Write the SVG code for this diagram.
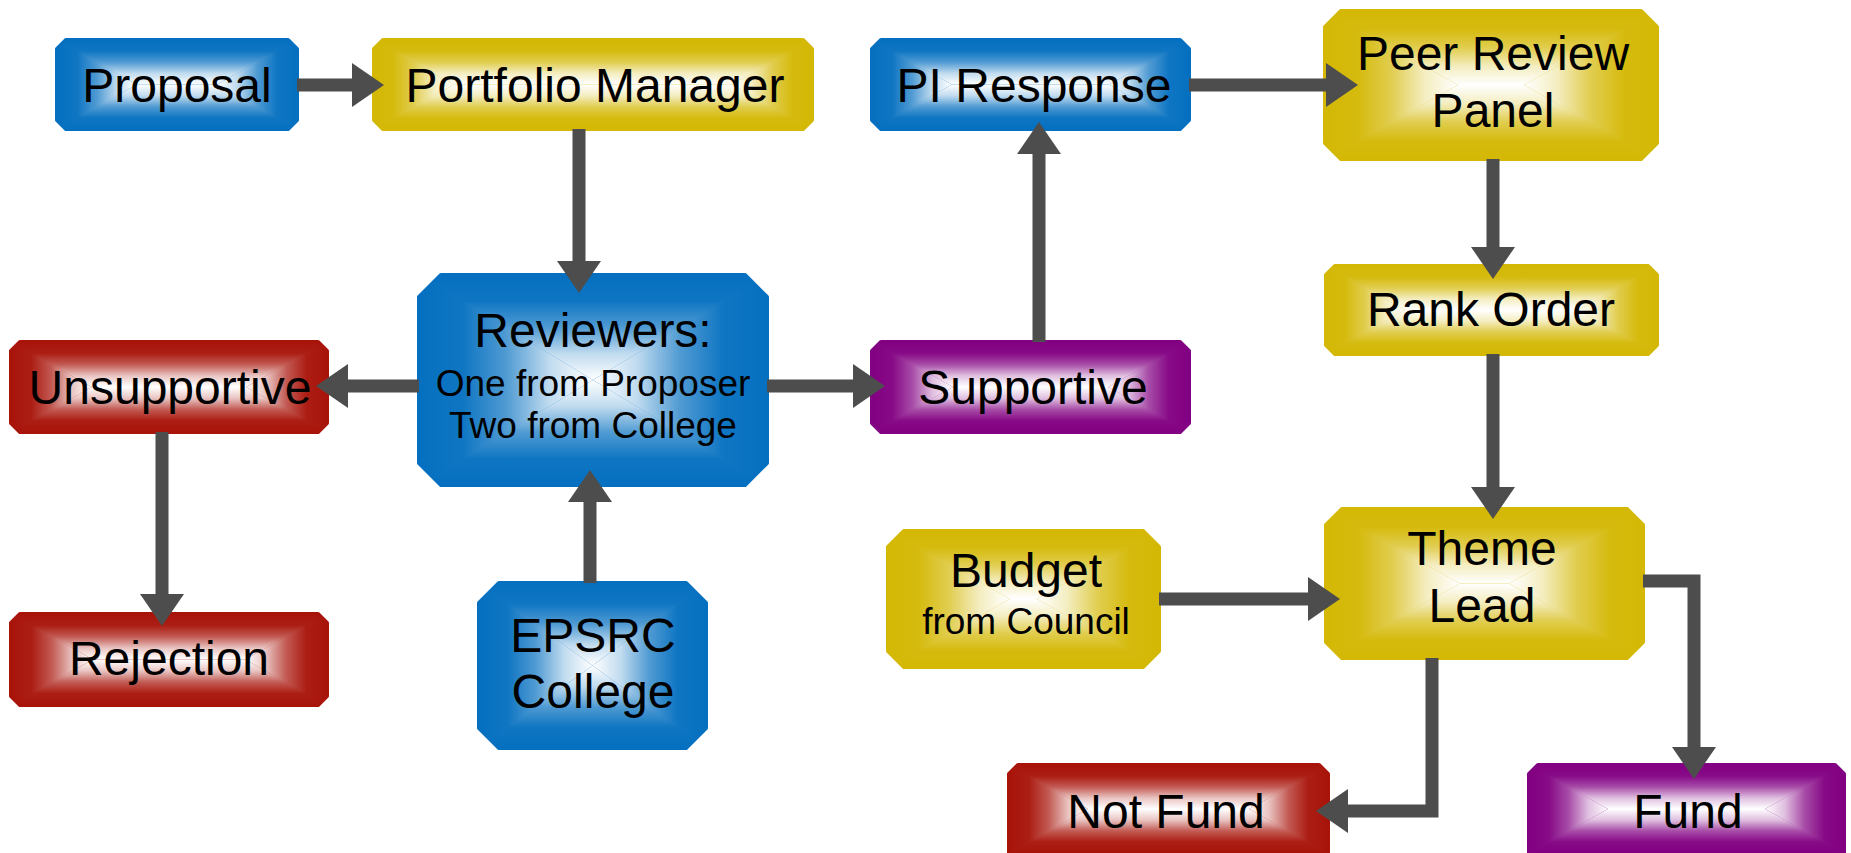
<svg xmlns="http://www.w3.org/2000/svg" xmlns:xlink="http://www.w3.org/1999/xlink" width="1851" height="853" viewBox="0 0 1851 853">
<defs>
<style>
.t{font-family:"Liberation Sans",Arial,sans-serif;font-size:48px;fill:#000;text-anchor:middle}
.s{font-size:37px}
.blue{fill:#0570C0;stroke:#0570C0}
.gold{fill:#D4B805;stroke:#D4B805}
.red{fill:#A8140A;stroke:#A8140A}
.purple{fill:#820082;stroke:#820082}
.box{stroke-width:4;stroke-linejoin:round}
.conn{fill:none;stroke:#4D4D4D;stroke-width:13;stroke-linejoin:miter;marker-end:url(#ah)}
</style>
<linearGradient id="gs">
<stop offset="0" stop-color="#fff" stop-opacity="0"/>
<stop offset="0.25" stop-color="#fff" stop-opacity="0.04"/>
<stop offset="0.5" stop-color="#fff" stop-opacity="0.3"/>
<stop offset="0.75" stop-color="#fff" stop-opacity="0.75"/>
<stop offset="1" stop-color="#fff" stop-opacity="1"/>
</linearGradient>
<linearGradient id="gt" href="#gs" xlink:href="#gs" x1="0" y1="0" x2="0" y2="1"/>
<linearGradient id="gb" href="#gs" xlink:href="#gs" x1="0" y1="1" x2="0" y2="0"/>
<linearGradient id="gl" href="#gs" xlink:href="#gs" x1="0" y1="0" x2="1" y2="0"/>
<linearGradient id="gr" href="#gs" xlink:href="#gs" x1="1" y1="0" x2="0" y2="0"/>
<marker id="ah" markerUnits="userSpaceOnUse" markerWidth="32" markerHeight="44" viewBox="0 0 32 44" refX="1" refY="22" orient="auto"><path d="M0,0 L32,22 L0,44 z" fill="#4D4D4D"/></marker>
</defs>
<rect width="1851" height="853" fill="#fff"/>

<g id="proposal"><path class="box blue" d="M66,40 H288 L297,49 V120 L288,129 H66 L57,120 V49 Z"/>
<polygon fill="url(#gt)" points="57,40 297,40 217,84.5 137,84.5"/><polygon fill="url(#gb)" points="57,129 297,129 217,84.5 137,84.5"/><polygon fill="url(#gl)" points="57,40 137,84.5 57,129"/><polygon fill="url(#gr)" points="297,40 217,84.5 297,129"/>
<text class="t" x="177" y="102">Proposal</text></g>

<g id="portfolio-manager"><path class="box gold" d="M383,40 H803 L812,49 V120 L803,129 H383 L374,120 V49 Z"/>
<polygon fill="url(#gt)" points="374,40 812,40 732,84.5 454,84.5"/><polygon fill="url(#gb)" points="374,129 812,129 732,84.5 454,84.5"/><polygon fill="url(#gl)" points="374,40 454,84.5 374,129"/><polygon fill="url(#gr)" points="812,40 732,84.5 812,129"/>
<text class="t" x="595" y="102">Portfolio Manager</text></g>

<g id="pi-response"><path class="box blue" d="M881,40 H1180 L1189,49 V120 L1180,129 H881 L872,120 V49 Z"/>
<polygon fill="url(#gt)" points="872,40 1189,40 1109,84.5 952,84.5"/><polygon fill="url(#gb)" points="872,129 1189,129 1109,84.5 952,84.5"/><polygon fill="url(#gl)" points="872,40 952,84.5 872,129"/><polygon fill="url(#gr)" points="1189,40 1109,84.5 1189,129"/>
<text class="t" x="1034" y="102">PI Response</text></g>

<g id="peer-review-panel"><path class="box gold" d="M1341,11 H1641 L1657,27 V143 L1641,159 H1341 L1325,143 V27 Z"/>
<polygon fill="url(#gt)" points="1325,11 1657,11 1524,85 1458,85"/><polygon fill="url(#gb)" points="1325,159 1657,159 1524,85 1458,85"/><polygon fill="url(#gl)" points="1325,11 1458,85 1325,159"/><polygon fill="url(#gr)" points="1657,11 1524,85 1657,159"/>
<text class="t" x="1493" y="70">Peer Review</text><text class="t" x="1493" y="127">Panel</text></g>

<g id="reviewers"><path class="box blue" d="M441,275 H745 L767,297 V463 L745,485 H441 L419,463 V297 Z"/>
<polygon fill="url(#gt)" points="419,275 767,275 593,380"/><polygon fill="url(#gb)" points="419,485 767,485 593,380"/><polygon fill="url(#gl)" points="419,275 593,380 419,485"/><polygon fill="url(#gr)" points="767,275 593,380 767,485"/>
<text class="t" x="593" y="347">Reviewers:</text><text class="t s" x="593" y="396">One from Proposer</text><text class="t s" x="593" y="438">Two from College</text></g>

<g id="unsupportive"><path class="box red" d="M20,342 H318 L327,351 V423 L318,432 H20 L11,423 V351 Z"/>
<polygon fill="url(#gt)" points="11,342 327,342 246,387 92,387"/><polygon fill="url(#gb)" points="11,432 327,432 246,387 92,387"/><polygon fill="url(#gl)" points="11,342 92,387 11,432"/><polygon fill="url(#gr)" points="327,342 246,387 327,432"/>
<text class="t" x="170" y="404">Unsupportive</text></g>

<g id="supportive"><path class="box purple" d="M881,342 H1180 L1189,351 V423 L1180,432 H881 L872,423 V351 Z"/>
<polygon fill="url(#gt)" points="872,342 1189,342 1108,387 953,387"/><polygon fill="url(#gb)" points="872,432 1189,432 1108,387 953,387"/><polygon fill="url(#gl)" points="872,342 953,387 872,432"/><polygon fill="url(#gr)" points="1189,342 1108,387 1189,432"/>
<text class="t" x="1033" y="404">Supportive</text></g>

<g id="rank-order"><path class="box gold" d="M1335,266 H1648 L1657,275 V345 L1648,354 H1335 L1326,345 V275 Z"/>
<polygon fill="url(#gt)" points="1326,266 1657,266 1578,310 1405,310"/><polygon fill="url(#gb)" points="1326,354 1657,354 1578,310 1405,310"/><polygon fill="url(#gl)" points="1326,266 1405,310 1326,354"/><polygon fill="url(#gr)" points="1657,266 1578,310 1657,354"/>
<text class="t" x="1491" y="326">Rank Order</text></g>

<g id="theme-lead"><path class="box gold" d="M1342,509 H1627 L1643,525 V642 L1627,658 H1342 L1326,642 V525 Z"/>
<polygon fill="url(#gt)" points="1326,509 1643,509 1509,583.5 1460,583.5"/><polygon fill="url(#gb)" points="1326,658 1643,658 1509,583.5 1460,583.5"/><polygon fill="url(#gl)" points="1326,509 1460,583.5 1326,658"/><polygon fill="url(#gr)" points="1643,509 1509,583.5 1643,658"/>
<text class="t" x="1482" y="565">Theme</text><text class="t" x="1482" y="622">Lead</text></g>

<g id="budget"><path class="box gold" d="M904,531 H1143 L1159,547 V651 L1143,667 H904 L888,651 V547 Z"/>
<polygon fill="url(#gt)" points="888,531 1159,531 1037,599 1010,599"/><polygon fill="url(#gb)" points="888,667 1159,667 1037,599 1010,599"/><polygon fill="url(#gl)" points="888,531 1010,599 888,667"/><polygon fill="url(#gr)" points="1159,531 1037,599 1159,667"/>
<text class="t" x="1026" y="587">Budget</text><text class="t s" x="1026" y="634">from Council</text></g>

<g id="rejection"><path class="box red" d="M20,614 H318 L327,623 V696 L318,705 H20 L11,696 V623 Z"/>
<polygon fill="url(#gt)" points="11,614 327,614 245,659.5 93,659.5"/><polygon fill="url(#gb)" points="11,705 327,705 245,659.5 93,659.5"/><polygon fill="url(#gl)" points="11,614 93,659.5 11,705"/><polygon fill="url(#gr)" points="327,614 245,659.5 327,705"/>
<text class="t" x="169" y="675">Rejection</text></g>

<g id="epsrc-college"><path class="box blue" d="M499,583 H686 L706,603 V728 L686,748 H499 L479,728 V603 Z"/>
<polygon fill="url(#gt)" points="479,583 706,583 592.5,665.5"/><polygon fill="url(#gb)" points="479,748 706,748 592.5,665.5"/><polygon fill="url(#gl)" points="479,583 592.5,665.5 479,748"/><polygon fill="url(#gr)" points="706,583 592.5,665.5 706,748"/>
<text class="t" x="593" y="652">EPSRC</text><text class="t" x="593" y="708">College</text></g>

<g id="not-fund"><path class="box red" d="M1018,765 H1319 L1328,774 V860 H1009 V774 Z"/>
<polygon fill="url(#gt)" points="1009,765 1328,765 1249,809 1088,809"/><polygon fill="url(#gb)" points="1009,853 1328,853 1249,809 1088,809"/><polygon fill="url(#gl)" points="1009,765 1088,809 1009,853"/><polygon fill="url(#gr)" points="1328,765 1249,809 1328,853"/>
<text class="t" x="1166" y="828">Not Fund</text></g>

<g id="fund"><path class="box purple" d="M1538,765 H1835 L1844,774 V860 H1529 V774 Z"/>
<polygon fill="url(#gt)" points="1529,765 1844,765 1765,809 1608,809"/><polygon fill="url(#gb)" points="1529,853 1844,853 1765,809 1608,809"/><polygon fill="url(#gl)" points="1529,765 1608,809 1529,853"/><polygon fill="url(#gr)" points="1844,765 1765,809 1844,853"/>
<text class="t" x="1688" y="828">Fund</text></g>

<g id="connectors">
<path class="conn" d="M297,85 H353"/>
<path class="conn" d="M1189,85 H1327"/>
<path class="conn" d="M579,129 V262"/>
<path class="conn" d="M419,386 H347"/>
<path class="conn" d="M767,386 H854"/>
<path class="conn" d="M1039,342 V153"/>
<path class="conn" d="M1493,159 V248"/>
<path class="conn" d="M1493,354 V488"/>
<path class="conn" d="M1159,599 H1309"/>
<path class="conn" d="M162,432 V595"/>
<path class="conn" d="M590,583 V501"/>
<path class="conn" d="M1432,658 V811 H1347"/>
<path class="conn" d="M1643,581 H1694 V748"/>
</g>
</svg>
